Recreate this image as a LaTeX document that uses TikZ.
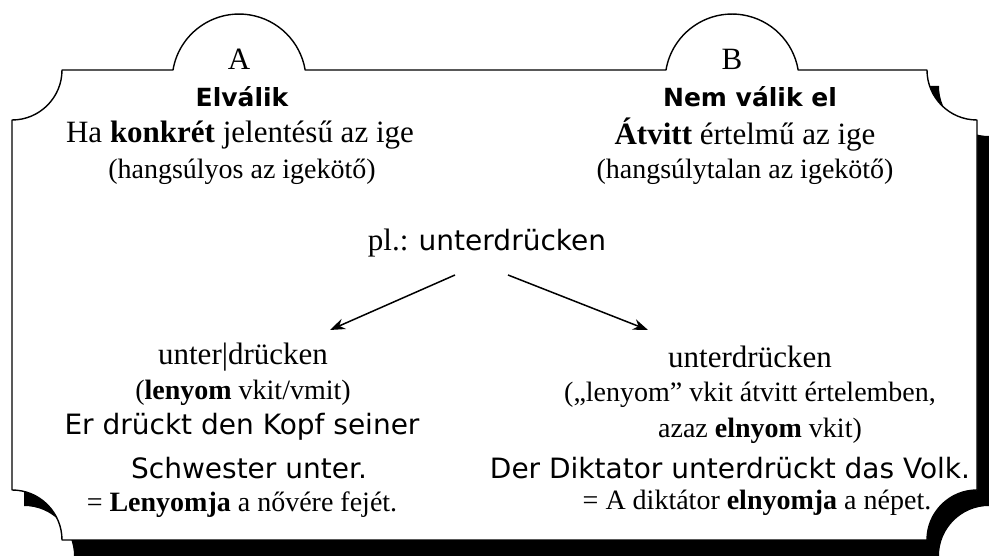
\documentclass[tikz,border=0pt]{standalone}
\usepackage{fontspec}
\setmainfont{Liberation Serif}
\newfontfamily\comic{DejaVu Sans}
\usetikzlibrary{arrows.meta}
\begin{document}
\begin{tikzpicture}[x=1pt,y=1pt,
  frame/.style={fill=white,draw=black,line width=1.4pt,line join=round},
  bigtxt/.style={font=\fontsize{31}{34}\selectfont,inner sep=0pt},
  smalltxt/.style={font=\fontsize{28}{31}\selectfont,inner sep=0pt},
  comictxt/.style={font=\comic\fontsize{28}{32}\selectfont,inner sep=0pt},
  comicbold/.style={font=\comic\bfseries\fontsize{25}{30}\selectfont,inner sep=0pt},
  arr/.style={-{Stealth[length=15pt,width=11pt]},line width=1.5pt}]
\useasboundingbox (0,0) rectangle (989,556);
% shadow of the body
\fill[black] (74,470) -- (939,470) arc[start angle=180,end angle=270,radius=50]
  -- (989,50) arc[start angle=90,end angle=180,radius=50]
  -- (74,0) arc[start angle=0,end angle=90,radius=50]
  -- (24,420) arc[start angle=270,end angle=360,radius=50] -- cycle;
% frame with tabs
\draw[frame] (62,486) -- (173,486) arc[start angle=170.5,end angle=9.5,radius=67]
  -- (666,486) arc[start angle=170.5,end angle=9.5,radius=67]
  -- (927,486) arc[start angle=180,end angle=270,radius=50]
  -- (977,66) arc[start angle=90,end angle=180,radius=50]
  -- (62,16) arc[start angle=0,end angle=90,radius=50]
  -- (12,436) arc[start angle=270,end angle=360,radius=50] -- cycle;
% headers
\node[bigtxt] (la) at (239,497) {A};
\node[bigtxt] (lb) at (732,497) {B};
\node[comicbold] (ta) at (242,459) {Elválik};
\node[comicbold] (tb) at (750,459) {Nem válik el};
\node[bigtxt] (ha) at (240,421) {Ha \textbf{konkrét} jelentésű az ige};
\node[bigtxt] (hb) at (745,421) {\textbf{Átvitt} értelmű az ige};
\node[smalltxt] (sa) at (242,384) {(hangsúlyos az igekötő)};
\node[smalltxt] (sb) at (745,384) {(hangsúlytalan az igekötő)};
% example
\node[bigtxt] (pl) at (487,313) {pl.: {\comic\fontsize{28}{32}\selectfont unterdrücken}};
\coordinate (al) at (455,281);
\coordinate (ar) at (508,281);
\coordinate (tl) at (330,226);
\coordinate (tr) at (648,226);
\draw[arr] (al) -- (tl);
\draw[arr] (ar) -- (tr);
% left column
\node[bigtxt] (ua) at (243,199) {unter|drücken};
\node[smalltxt] (ga) at (243,163) {(\textbf{lenyom} vkit/vmit)};
\node[comictxt] (ea) at (242,129) {Er drückt den Kopf seiner};
\node[comictxt] (eb) at (249,88) {Schwester unter.};
\node[smalltxt] (fa) at (242,51) {= \textbf{Lenyomja} a nővére fejét.};
% right column
\node[bigtxt] (ub) at (750,199) {unterdrücken};
\node[smalltxt] (gb) at (750,161) {(„lenyom” vkit átvitt értelemben,};
\node[smalltxt] (gc) at (760,125) {azaz \textbf{elnyom} vkit)};
\node[comictxt] (ec) at (730,88) {Der Diktator unterdrückt das Volk.};
\node[smalltxt] (fb) at (757,53) {= A diktátor \textbf{elnyomja} a népet.};
\end{tikzpicture}
\end{document}
